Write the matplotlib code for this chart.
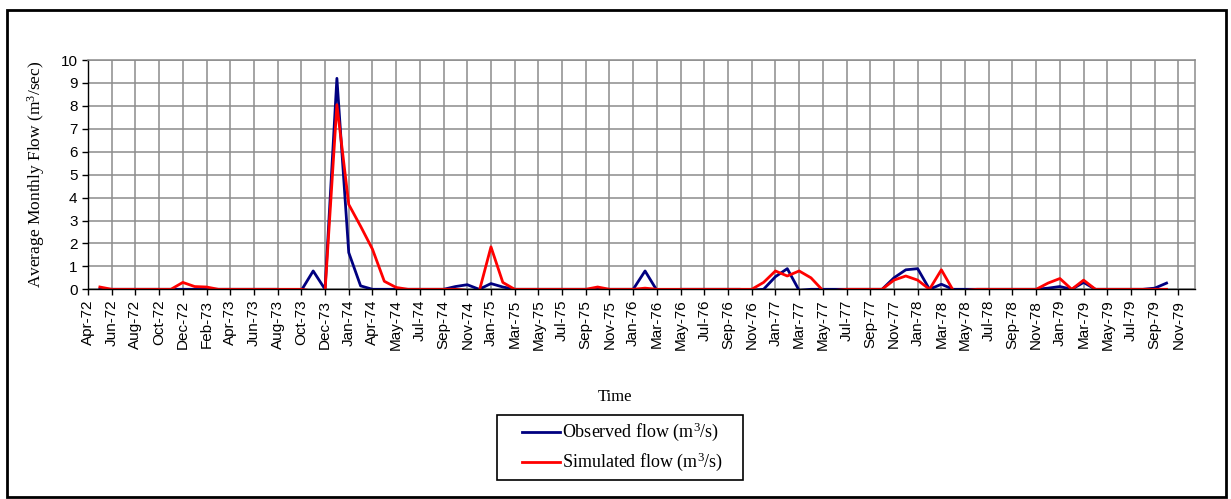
import numpy as np
import matplotlib
matplotlib.use("Agg")
import matplotlib.pyplot as plt
from matplotlib.patches import Rectangle
from matplotlib.lines import Line2D

plt.rcParams['font.family'] = ['Liberation Sans', 'DejaVu Sans']
plt.rcParams['mathtext.fontset'] = 'custom'
plt.rcParams['mathtext.rm'] = 'Liberation Serif'
plt.rcParams['mathtext.it'] = 'Liberation Serif:italic'

nan = np.nan

# category labels (one every second category on the axis)
tick_labels = ["Apr-72", "Jun-72", "Aug-72", "Oct-72", "Dec-72", "Feb-73", "Apr-73", "Jun-73",
               "Aug-73", "Oct-73", "Dec-73", "Jan-74", "Apr-74", "May-74", "Jul-74", "Sep-74",
               "Nov-74", "Jan-75", "Mar-75", "May-75", "Jul-75", "Sep-75", "Nov-75", "Jan-76",
               "Mar-76", "May-76", "Jul-76", "Sep-76", "Nov-76", "Jan-77", "Mar-77", "May-77",
               "Jul-77", "Sep-77", "Nov-77", "Jan-78", "Mar-78", "May-78", "Jul-78", "Sep-78",
               "Nov-78", "Jan-79", "Mar-79", "May-79", "Jul-79", "Sep-79", "Nov-79"]

# average monthly flow, m3/s
observed = [nan, 0, 0, 0, 0, 0, 0, 0, 0, 0,
            0, 0, 0, 0, 0, 0, 0, -0.05, -0.05, 0.8,
            0.0, 9.2, 1.6, 0.15, 0, 0, 0, 0, 0, 0,
            0, 0.12, 0.2, 0.0, 0.25, 0.1, 0, 0, 0, 0,
            0, 0, 0, 0, 0, 0, 0, 0.8, -0.05, -0.05,
            0, 0, 0, 0, 0, 0, -0.04, 0.0, 0.55, 0.9,
            -0.05, 0, 0, 0, 0, 0, 0, 0, 0.5, 0.85,
            0.9, 0.0, 0.22, 0, 0, 0, 0, 0, 0, 0,
            0, 0.05, 0.12, 0.0, 0.3, 0, 0, 0, 0, 0,
            0.05, 0.27, nan, nan]

simulated = [nan, 0.1, 0, 0, 0, 0, 0, 0, 0.3, 0.12,
             0.1, 0, 0, 0, 0, 0, 0, 0, 0, -0.08,
             -0.08, 8.05, 3.7, 2.75, 1.75, 0.35, 0.08, 0, 0, 0,
             0, 0, -0.05, -0.1, 1.85, 0.3, 0, 0, 0, 0,
             0, 0, 0, 0.1, 0, 0, 0, 0.05, 0, 0,
             0, 0, 0, 0, 0, 0, 0, 0.3, 0.8, 0.58,
             0.8, 0.5, -0.05, -0.05, 0, 0, 0, 0, 0.4, 0.58,
             0.4, 0.0, 0.85, -0.05, -0.05, 0, 0, 0, 0, 0,
             0, 0.27, 0.47, 0.0, 0.4, 0, 0, 0, 0, 0,
             0, 0, nan, nan]

series_names = [r"Observed flow (m$^3$/s)", r"Simulated flow (m$^3$/s)"]
series_colors = ["#000080", "#ff0000"]

x = np.arange(len(observed))

W, H = 1231, 499
fig = plt.figure(figsize=(W / 100, H / 100), dpi=100)
ax = fig.add_axes([88 / W, 1 - 289.3 / H, (1195 - 88) / W, (289.3 - 60) / H])

ax.plot(x, observed, color=series_colors[0], lw=2.0)
ax.plot(x, simulated, color=series_colors[1], lw=2.0)

ax.set_xlim(0, 93.4)
ax.set_ylim(0, 10)
ax.set_yticks(range(0, 11))
ax.set_xticks(np.arange(0, 2 * len(tick_labels), 2))
ax.set_xticklabels(tick_labels, rotation=90, fontsize=11)
ax.tick_params(axis="y", labelsize=11, direction="out", length=4, width=1)
ax.tick_params(axis="x", direction="out", length=4, width=1)
ax.grid(True, color="#8c8c8c", lw=1.1)
ax.set_axisbelow(True)
for s in ["top", "right"]:
    ax.spines[s].set_color("#8c8c8c")
    ax.spines[s].set_linewidth(1.1)
for s in ["left", "bottom"]:
    ax.spines[s].set_color("black")
    ax.spines[s].set_linewidth(1.0)

fig.text(36 / W, 1 - 174 / H, r"Average Monthly Flow (m$^3$/sec)", rotation=90,
         ha="center", va="center", fontsize=12.5, family="Liberation Serif")
fig.text(615 / W, 1 - 397 / H, "Time", ha="center", va="center", fontsize=12,
         family="Liberation Serif")

# legend box drawn by hand so the paddings match the original
fig.add_artist(Rectangle((497 / W, 1 - 480 / H), (743 - 497) / W, (480 - 415) / H,
                         transform=fig.transFigure, fc="white", ec="black", lw=1.2))
for i, (name, col) in enumerate(zip(series_names, series_colors)):
    yy = 1 - (432 + 30 * i) / H
    fig.add_artist(Line2D([522 / W, 560 / W], [yy, yy], transform=fig.transFigure,
                          color=col, lw=2.0))
    fig.text(562 / W, yy, name, ha="left", va="center", fontsize=13,
             family="Liberation Serif")

# outer chart border
fig.add_artist(Rectangle((7 / W, 1 - 497 / H), (1226 - 7) / W, (497 - 10) / H,
                         transform=fig.transFigure, fill=False, ec="black", lw=2.0))

fig.savefig("out.png", dpi=100)
